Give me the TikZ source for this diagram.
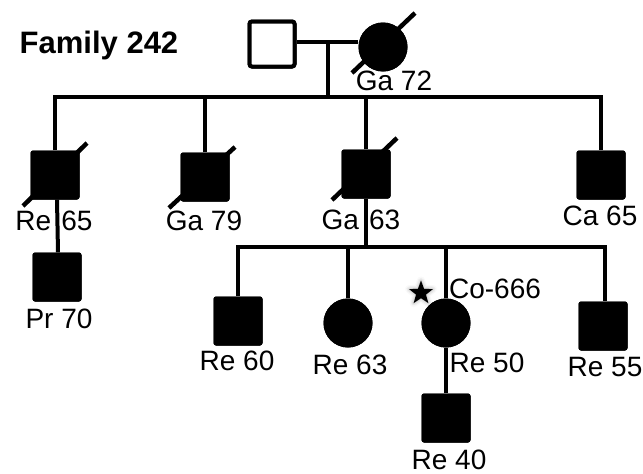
\documentclass[tikz,border=0pt]{standalone}
\usepackage{fontspec}
\setmainfont{Liberation Sans}
\usetikzlibrary{shapes.geometric,shadows.blur}
\begin{document}
\begin{tikzpicture}[x=1pt,y=-1pt,
  male/.style={rectangle,minimum size=49pt,inner sep=0pt,rounded corners=2.5pt,fill=black},
  maleopen/.style={rectangle,minimum size=45pt,inner sep=0pt,rounded corners=2.5pt,draw=black,line width=4pt,fill=white},
  female/.style={circle,minimum size=49pt,inner sep=0pt,fill=black},
  lbl/.style={font=\fontsize{28}{30}\selectfont,inner sep=0pt,anchor=base},
  link/.style={line width=4pt},
  dead/.style={line width=4.5pt}]
\useasboundingbox (0,0) rectangle (643,474);

\node[font=\bfseries\fontsize{31}{34}\selectfont,inner sep=0pt,anchor=base] (title) at (99,53) {Family 242};

% generation I
\node[maleopen] (I1) at (272,44) {};
\node[female] (I2) at (383,47) {};
\coordinate (m1) at (328,42);
\coordinate (sib1) at (0,97);
\coordinate (sib2) at (0,247);

% generation II
\node[male] (II1) at (55,175) {};
\node[male] (II2) at (205,177) {};
\node[male] (II3) at (366,174) {};
\node[male] (II4) at (601,175) {};
\node[male] (P70) at (57,277) {};

% generation III
\node[male] (III1) at (238,321) {};
\node[female] (III2) at (348,323) {};
\node[female] (III3) at (446,323) {};
\node[male] (III4) at (603,326) {};
\node[male] (IV1) at (446,418) {};

% connectors
\draw[link] (I1.east |- m1) -- (I2.west |- m1);
\draw[link] (m1) -- (m1 |- sib1);
\draw[link] (II1.north) -- (II1.north |- sib1) -- (II4.north |- sib1) -- (II4.north);
\draw[link] (II2.north) -- (II2.north |- sib1);
\draw[link] (II3.north) -- (II3.north |- sib1);
\draw[link] ([xshift=2pt]II1.south) -- ([xshift=1pt]P70.north);
\draw[link] (II3.south) -- (II3.south |- sib2);
\draw[link] (III1.north) -- (III1.north |- sib2) -- ([xshift=2pt]III4.north |- sib2) -- ([xshift=2pt]III4.north);
\draw[link] (III2.north) -- (III2.north |- sib2);
\draw[link] (III3.north) -- (III3.north |- sib2);
\draw[link] (III3.south) -- (IV1.north);

% redraw shapes on top of lines
\node[maleopen] at (I1) {};
\node[female] at (I2) {};
\node[male] at (II1) {};
\node[male] at (II2) {};
\node[male] at (II3) {};
\node[male] at (II4) {};
\node[male] at (P70) {};
\node[male] at (III1) {};
\node[female] at (III2) {};
\node[female] at (III3) {};
\node[male] at (III4) {};
\node[male] at (IV1) {};

% deceased slashes
\draw[dead] ([shift={(-31,26)}]I2.center) -- ([shift={(32,-34)}]I2.center);
\draw[dead] ([shift={(-32,31)}]II1.center) -- ([shift={(32,-32)}]II1.center);
\draw[dead] ([shift={(-36,31)}]II2.center) -- ([shift={(30,-30)}]II2.center);
\draw[dead] ([shift={(-34,26)}]II3.center) -- ([shift={(31,-36)}]II3.center);

% labels
\node[lbl] (lGa72) at (394,90) {Ga 72};
\node[lbl] (lRe65) at (54,230) {Re\hspace{0.36em}65};
\node[lbl] (lGa79) at (204,230) {Ga 79};
\node[lbl] (lGa63) at (361,229) {Ga\hspace{0.36em}63};
\node[lbl] (lCa65) at (600,225) {Ca 65};
\node[lbl] (lPr70) at (59,328) {Pr 70};
\node[lbl] (lRe60) at (237,370) {Re 60};
\node[lbl] (lRe63) at (350,374) {Re 63};
\node[lbl] (lRe50) at (487,372) {Re 50};
\node[lbl] (lCo) at (495,298) {Co-666};
\node[lbl] (lRe55) at (605,376) {Re 55};
\node[lbl] (lRe40) at (449,469) {Re 40};

\node[star,star points=5,star point ratio=2.4,minimum size=25pt,inner sep=0pt,fill=black,
  blur shadow={shadow xshift=0pt,shadow yshift=0pt,shadow blur radius=4pt,shadow opacity=35}] (star) at (421,293) {};
\end{tikzpicture}
\end{document}
